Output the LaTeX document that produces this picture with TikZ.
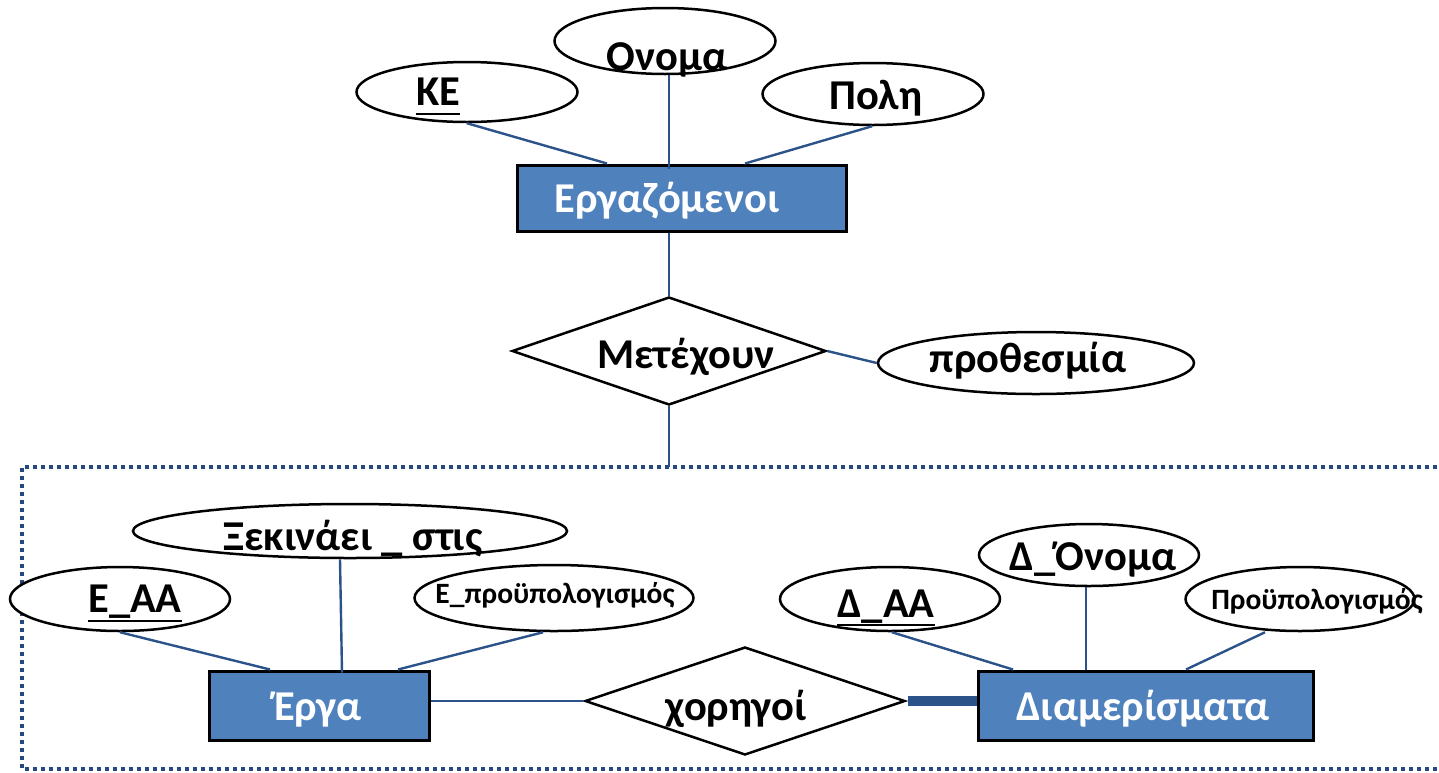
\documentclass[tikz,border=0pt]{standalone}
\usepackage{fontspec}
\setmainfont{Carlito}
\usetikzlibrary{shapes.geometric}
\definecolor{entfill}{RGB}{79,129,189}
\definecolor{conn}{RGB}{44,82,138}
\definecolor{dotc}{RGB}{38,72,128}
\tikzset{
  attr/.style={ellipse,draw=black,line width=2.5pt,fill=white,inner sep=0pt},
  rel/.style={diamond,draw=black,line width=2.5pt,fill=white,inner sep=0pt},
  ent/.style={rectangle,draw=black,line width=3pt,fill=entfill,inner sep=0pt},
  big/.style={font=\fontsize{42.5}{44}\selectfont\bfseries,inner sep=0pt,anchor=base},
  small/.style={font=\fontsize{29.5}{31}\selectfont\bfseries,inner sep=0pt,anchor=base},
  etxt/.style={big,text=white},
  cn/.style={draw=conn,line width=2.4pt},
  ul/.style={draw=black,line width=2.8pt},
}
\begin{document}
\begin{tikzpicture}[x=1pt,y=-1pt]
\useasboundingbox (0,0) rectangle (1439,772);
% dotted box
\coordinate (boxtop) at (669,467);
\draw[dotc,line width=4pt,dash pattern=on 4pt off 4pt] (1445,467) -- (22,467) -- (22,769) -- (1445,769);

% upper part
\node[ent,minimum width=329,minimum height=66] (emp) at (681.5,198) {};
\node[attr,minimum width=221,minimum height=60] (ke) at (467,92) {};
\node[attr,minimum width=221,minimum height=66] (onoma) at (665,41) {};
\node[attr,minimum width=221,minimum height=62] (poli) at (873,94) {};
\node[rel,minimum width=314,minimum height=108] (met) at (669,351) {};
\node[attr,minimum width=316,minimum height=62] (proth) at (1036,363) {};

\draw[cn] (ke.south) -- ([xshift=-74.5]emp.north);
\draw[cn] ([xshift=4]onoma.south) -- ([xshift=-12.5,yshift=-5]emp.north);
\draw[cn] ([xshift=-1]poli.south) -- ([xshift=63.5]emp.north);
\draw[cn] ([xshift=-12.5]emp.south) -- (met.north);
\draw[cn] (met.east) -- (proth.west);
\draw[cn] (met.south) -- (boxtop);

\node[big] (tke) at (438,105) {ΚΕ};
\draw[ul] ([yshift=-9]tke.base west) -- ([yshift=-9]tke.base east);
\node[big] (tonoma) at (667,70) {Ονομα};
\node[big] (tpoli) at (876,109) {Πολη};
\node[etxt] (temp) at (667,212) {Εργαζόμενοι};
\node[big] (tmet) at (686,368) {Μετέχουν};
\node[big] (tproth) at (1028,372) {προθεσμία};

% lower part
\node[ent,minimum width=220,minimum height=69] (erga) at (319,705.5) {};
\node[rel,minimum width=320,minimum height=108] (xor) at (745,701) {};
\node[ent,minimum width=335,minimum height=69] (diam) at (1145.5,705.5) {};
\node[attr,minimum width=220,minimum height=64] (eaa) at (120,599) {};
\node[attr,minimum width=434,minimum height=54] (xek) at (350,531) {};
\node[attr,minimum width=279,minimum height=66] (epr) at (554,598) {};
\node[attr,minimum width=220,minimum height=64] (daa) at (890,599) {};
\node[attr,minimum width=220,minimum height=62] (dono) at (1089,555) {};
\node[attr,minimum width=229,minimum height=64] (prou) at (1300,599) {};

\draw[cn] (xor.west -| erga.east) -- (xor.west);
\draw[draw=conn,line width=10pt] ([xshift=2]xor.east) -- (xor.east -| diam.west);
\draw[cn] (eaa.south) -- ([xshift=-49]erga.north);
\draw[cn] ([xshift=-10]xek.south) -- ([xshift=23,yshift=-3]erga.north);
\draw[cn] ([xshift=-11]epr.south) -- ([xshift=79]erga.north);
\draw[cn] ([xshift=2]daa.south) -- ([xshift=-132.5]diam.north);
\draw[cn] ([xshift=-3]dono.south) -- ([xshift=-59.5]diam.north);
\draw[cn] ([xshift=-35]prou.south) -- ([xshift=40.5]diam.north);

\node[big] (txek) at (353,550) {Ξεκινάει \_ στις};
\node[big] (teaa) at (135,612) {Ε\_ΑΑ};
\draw[ul] ([yshift=-9]teaa.base west) -- ([yshift=-9]teaa.base east);
\node[small] (tepr) at (555,603) {Ε\_προϋπολογισμός};
\node[etxt] (terga) at (318,720) {Έργα};
\node[big] (txor) at (736,720) {χορηγοί};
\node[etxt] (tdiam) at (1143,720) {Διαμερίσματα};
\node[big] (tdaa) at (886,617) {Δ\_ΑΑ};
\draw[ul] ([yshift=-8]tdaa.base west) -- ([yshift=-8]tdaa.base east);
\node[big] (tdono) at (1093,570) {Δ\_Όνομα};
\node[small] (tprou) at (1317,609) {Προϋπολογισμός};
\end{tikzpicture}
\end{document}
